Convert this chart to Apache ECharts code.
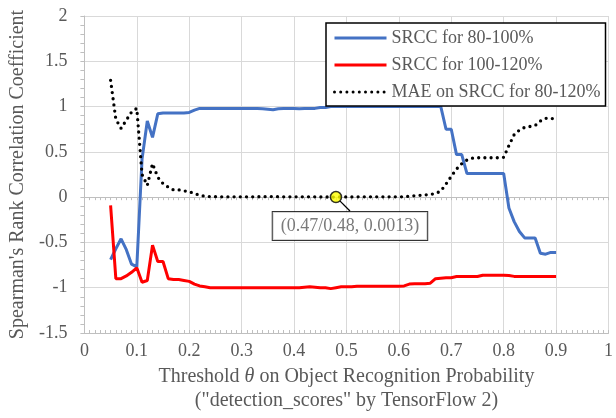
<!DOCTYPE html>
<html>
<head>
<meta charset="utf-8">
<script src="https://cdn.jsdelivr.net/npm/echarts@6/dist/echarts.min.js"></script>
<style>html,body{margin:0;padding:0;background:#fff}#c{width:616px;height:418px}</style>
</head>
<body>
<div id="c"></div>
<script>
const thresholds = [0.05,0.06,0.07,0.08,0.09,0.10,0.11,0.12,0.13,0.14,0.15,0.16,0.17,0.18,0.19,0.20,
  0.21,0.22,0.23,0.24,0.25,0.26,0.27,0.28,0.29,0.30,0.31,0.32,0.33,0.34,0.35,0.36,0.37,0.38,0.39,0.40,
  0.41,0.42,0.43,0.44,0.45,0.46,0.47,0.48,0.49,0.50,0.51,0.52,0.53,0.54,0.55,0.56,0.57,0.58,0.59,0.60,
  0.61,0.62,0.63,0.64,0.65,0.66,0.67,0.68,0.69,0.70,0.71,0.72,0.73,0.74,0.75,0.76,0.77,0.78,0.79,0.80,
  0.81,0.82,0.83,0.84,0.85,0.86,0.87,0.88,0.89,0.90];
const srcc80to100 = [-0.69,-0.57,-0.46,-0.58,-0.74,-0.77,0.42,0.84,0.66,0.92,0.93,0.93,0.93,0.93,0.93,0.935,
  0.96,0.98,0.98,0.98,0.98,0.98,0.98,0.98,0.98,0.98,0.98,0.98,0.98,0.975,0.97,0.965,0.975,0.98,0.98,0.98,
  0.975,0.98,0.98,0.98,0.99,0.99,1.00,1.00,1.00,1.00,1.00,1.00,1.00,1.00,1.00,1.00,1.00,1.00,1.00,1.00,
  1.00,1.00,1.00,1.00,1.00,1.00,1.00,1.00,0.75,0.75,0.47,0.47,0.26,0.26,0.26,0.26,0.26,0.26,0.26,0.26,
  -0.12,-0.27,-0.38,-0.45,-0.45,-0.45,-0.62,-0.63,-0.61,-0.61];
const srcc100to120 = [-0.09,-0.90,-0.90,-0.87,-0.83,-0.78,-0.94,-0.92,-0.53,-0.71,-0.71,-0.90,-0.91,-0.91,-0.92,-0.93,
  -0.96,-0.98,-0.99,-1.00,-1.00,-1.00,-1.00,-1.00,-1.00,-1.00,-1.00,-1.00,-1.00,-1.00,-1.00,-1.00,-1.00,-1.00,-1.00,-1.00,
  -1.00,-0.995,-0.99,-0.995,-1.00,-1.00,-1.01,-1.00,-0.99,-0.99,-0.99,-0.985,-0.985,-0.985,-0.985,-0.985,-0.985,-0.985,-0.985,-0.985,
  -0.98,-0.96,-0.955,-0.955,-0.955,-0.95,-0.90,-0.895,-0.89,-0.89,-0.877,-0.877,-0.877,-0.877,-0.877,-0.862,-0.862,-0.862,-0.862,-0.862,
  -0.865,-0.875,-0.877,-0.877,-0.877,-0.877,-0.877,-0.877,-0.877,-0.877];
const maeSrcc80to120 = [1.29,0.86,0.76,0.85,0.94,0.98,0.25,0.13,0.37,0.22,0.15,0.11,0.08,0.08,0.07,0.06,
  0.04,0.02,0.01,0.005,0.005,0.004,0.004,0.004,0.004,0.004,0.004,0.004,0.004,0.005,0.006,0.006,0.005,0.004,0.004,0.004,
  0.004,0.004,0.004,0.003,0.002,0.002,0.0013,0.0013,0.002,0.002,0.002,0.003,0.003,0.003,0.003,0.003,0.003,0.003,0.003,0.003,
  0.005,0.01,0.015,0.02,0.025,0.03,0.04,0.067,0.145,0.23,0.31,0.37,0.41,0.43,0.435,0.435,0.435,0.435,0.435,0.44,
  0.57,0.69,0.74,0.77,0.78,0.79,0.84,0.87,0.87,0.86];
const bestPoint = [0.48, 0.0013];
const bestLabel = '(0.47/0.48, 0.0013)';
const seriesNames = ['SRCC for 80-100%', 'SRCC for 100-120%', 'MAE on SRCC for 80-120%'];
const xTickLabels = ['0','0.1','0.2','0.3','0.4','0.5','0.6','0.7','0.8','0.9','1'];
const yTickLabels = ['-1.5','-1','-0.5','0','0.5','1','1.5','2'];

const FONT = 'Liberation Serif';
const TXT = '#595959';
const pair = (ys) => thresholds.map((x, i) => [x, ys[i]]);

const chart = echarts.init(document.getElementById('c'), null, {renderer: 'canvas'});
const zeroAxis = (inside) => ({
  type: 'value', min: 0, max: 1, interval: 0.1, position: 'bottom',
  axisLine: {show: true, onZero: true, lineStyle: {color: '#BFBFBF', width: 1}},
  axisTick: {show: true, inside: inside, length: 3, lineStyle: {color: '#BFBFBF'}},
  minorTick: {show: true, splitNumber: 10, length: 3, lineStyle: {color: '#BFBFBF'}},
  axisLabel: {show: false}, splitLine: {show: false}
});
chart.setOption({
  animation: false,
  backgroundColor: '#fff',
  textStyle: {fontFamily: FONT},
  grid: {left: 83, right: 3, top: 16, bottom: 80, containLabel: false},
  legend: {
    data: seriesNames, orient: 'vertical', left: 326, top: 23,
    padding: [6, 5, 5, 7], itemGap: 9, itemWidth: 52, itemHeight: 14,
    backgroundColor: '#fff', borderColor: '#000', borderWidth: 1.5, borderRadius: 0,
    itemStyle: {opacity: 0},
    lineStyle: {width: 3},
    textStyle: {fontFamily: FONT, fontSize: 18, color: TXT, lineHeight: 18},
    selectedMode: false
  },
  xAxis: [{
    type: 'value', min: 0, max: 1, interval: 0.1, position: 'bottom',
    axisLine: {show: false, onZero: false}, axisTick: {show: false},
    axisLabel: {fontFamily: FONT, fontSize: 18, color: TXT, margin: 9,
      formatter: (v) => xTickLabels[Math.round(v * 10)]},
    splitLine: {show: true, lineStyle: {color: '#D9D9D9', width: 1}},
    name: '{a|Threshold }{i|θ}{a| on Object Recognition Probability}\n{a|("detection_scores" by TensorFlow 2)}',
    nameLocation: 'middle', nameGap: 32,
    nameTextStyle: {fontFamily: FONT, fontSize: 20, color: TXT, lineHeight: 24,
      rich: {a: {fontFamily: FONT, fontSize: 20, color: TXT, lineHeight: 24},
             i: {fontFamily: FONT, fontSize: 20, color: TXT, fontStyle: 'italic', lineHeight: 24}}}
  }, zeroAxis(false), zeroAxis(true)],
  yAxis: {
    type: 'value', min: -1.5, max: 2, interval: 0.5,
    axisLine: {show: true, onZero: false, lineStyle: {color: '#BFBFBF', width: 1}},
    axisTick: {show: true, length: 4, lineStyle: {color: '#BFBFBF'}},
    minorTick: {show: true, splitNumber: 5, length: 4, lineStyle: {color: '#BFBFBF'}},
    axisLabel: {fontFamily: FONT, fontSize: 18, color: TXT, margin: 17,
      formatter: (v) => yTickLabels[Math.round((v + 1.5) * 2)]},
    splitLine: {show: true, lineStyle: {color: '#D9D9D9', width: 1}},
    name: "Spearman's Rank Correlation Coefficient",
    nameLocation: 'middle', nameGap: 40, nameRotate: 90,
    nameTextStyle: {fontFamily: FONT, fontSize: 20, color: TXT}
  },
  series: [
    {name: seriesNames[0], type: 'line', xAxisIndex: 0, data: pair(srcc80to100), symbol: 'none',
     lineStyle: {color: '#4472C4', width: 3}, itemStyle: {color: '#4472C4'}, emphasis: {disabled: true}, z: 3},
    {name: seriesNames[1], type: 'line', xAxisIndex: 0, data: pair(srcc100to120), symbol: 'none',
     lineStyle: {color: '#FF0000', width: 3}, itemStyle: {color: '#FF0000'}, emphasis: {disabled: true}, z: 3},
    {name: seriesNames[2], type: 'line', xAxisIndex: 0, data: pair(maeSrcc80to120), symbol: 'none',
     lineStyle: {color: '#000', width: 3.3, type: [0, 6.2], cap: 'round'}, itemStyle: {color: '#000'},
     emphasis: {disabled: true}, z: 4},
    {name: 'best', type: 'scatter', xAxisIndex: 0, data: [bestPoint], symbol: 'circle', symbolSize: 11,
     itemStyle: {color: '#FFFF00', borderColor: '#000', borderWidth: 1.5}, emphasis: {disabled: true}, z: 6,
     label: {show: true, position: 'inside', formatter: bestLabel, fontFamily: FONT, fontSize: 18, color: TXT,
       backgroundColor: '#fff', borderColor: '#000', borderWidth: 1, padding: [5, 8, 5, 8]},
     labelLayout: {dx: 14, dy: 29},
     labelLine: {show: true, lineStyle: {color: '#000', width: 1.3}}}
  ]
});
</script>
</body>
</html>
